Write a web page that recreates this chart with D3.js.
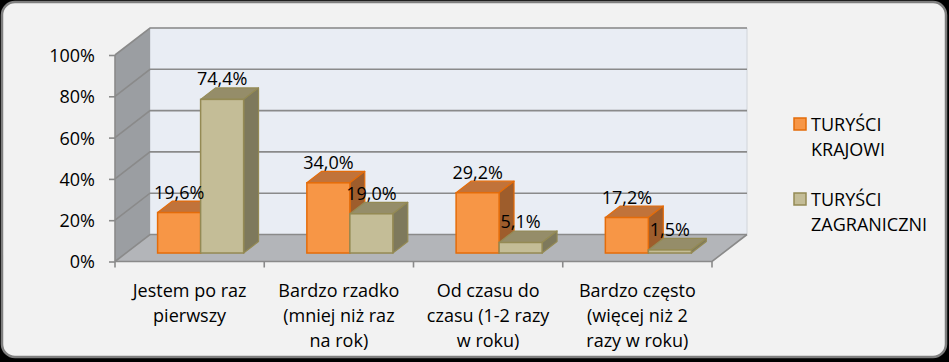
<!DOCTYPE html>
<html><head><meta charset="utf-8">
<script src="https://cdn.jsdelivr.net/npm/d3@7"></script>
<style>html,body{margin:0;padding:0;background:#000;} svg{display:block;}</style>
</head><body>
<svg id="c" width="949" height="362"></svg>
<script>
const categories = [
  ["Jestem po raz", "pierwszy"],
  ["Bardzo rzadko", "(mniej niż raz", "na rok)"],
  ["Od czasu do", "czasu (1-2 razy", "w roku)"],
  ["Bardzo często", "(więcej niż 2", "razy w roku)"]
];
const seriesNames = ["TURYŚCI KRAJOWI", "TURYŚCI ZAGRANICZNI"];
const legendLines = [["TURYŚCI", "KRAJOWI"], ["TURYŚCI", "ZAGRANICZNI"]];
const krajowi = [19.6, 34.0, 29.2, 17.2];
const zagraniczni = [74.4, 19.0, 5.1, 1.5];
const labelsKrajowi = ["19,6%", "34,0%", "29,2%", "17,2%"];
const labelsZagraniczni = ["74,4%", "19,0%", "5,1%", "1,5%"];
const yTicks = [0, 20, 40, 60, 80, 100];

const FONT = "'Open Sans', sans-serif";
const svg = d3.select("#c");

// outer panel
svg.append("rect").attr("x", 2).attr("y", 2).attr("width", 944).attr("height", 355)
  .attr("rx", 13).attr("ry", 13).attr("fill", "#f2f2f2").attr("stroke", "#7f7f7f").attr("stroke-width", 2.5);

const catKeys = categories.map((c, i) => i);
const x = d3.scaleBand().domain(catKeys).range([115, 712]);
const y = d3.scaleLinear().domain([0, 100]).range([261.5, 55]);
const DX = 35, DY = -27; // floor depth
const f0 = 0.314, f1 = 0.74; // bar depth fractions
const sub = d3.scaleBand().domain([0, 1]).range([0, x.bandwidth()]).paddingInner(0).paddingOuter(0.735);

const x0 = x.range()[0], x1 = x.range()[1];
const y0 = y(0);
const yTop = y(100);
const line = d3.line();

// back wall
svg.append("path").attr("d", line([[x0 + DX, yTop + DY], [x1 + DX, yTop + DY], [x1 + DX, y0 + DY], [x0 + DX, y0 + DY]]) + "Z")
  .attr("fill", "#e9edf4").attr("stroke", "#d0d4da").attr("stroke-width", 1);
// left wall
svg.append("path").attr("d", line([[x0, yTop], [x0 + DX, yTop + DY], [x0 + DX, y0 + DY], [x0, y0]]) + "Z")
  .attr("fill", "#9b9ea2");
// floor
svg.append("path").attr("d", line([[x0, y0], [x0 + DX, y0 + DY], [x1 + DX, y0 + DY], [x1, y0]]) + "Z")
  .attr("fill", "#b3b5b9");

// gridlines
yTicks.forEach(t => {
  const yy = y(t);
  svg.append("path").attr("d", line([[x0, yy], [x0 + DX, yy + DY], [x1 + DX, yy + DY]]))
    .attr("fill", "none").attr("stroke", "#8a8a8a").attr("stroke-width", 1.6);
});
// floor front edge + right diagonal
svg.append("path").attr("d", line([[x0, y0], [x1, y0], [x1 + DX, y0 + DY]]))
  .attr("fill", "none").attr("stroke", "#8a8a8a").attr("stroke-width", 1.6);

// y axis
const yAxis = d3.axisLeft(y).tickValues(yTicks).tickFormat(d => d + "%").tickSize(6).tickPadding(14);
const gy = svg.append("g").attr("transform", `translate(${x0},0)`).call(yAxis);
gy.select(".domain").attr("stroke", "#8a8a8a").attr("stroke-width", 1.6).attr("d", `M0,${yTop}V${y0}`);
gy.selectAll(".tick line").attr("stroke", "#8a8a8a").attr("stroke-width", 1.6);
gy.selectAll(".tick text").attr("font-family", FONT).attr("font-size", 18).attr("fill", "#000").attr("dy", "0.36em");

// x axis boundary ticks
const bounds = catKeys.map(k => x(k)).concat([x1]);
svg.selectAll(".xt").data(bounds).enter().append("line")
  .attr("x1", d => d).attr("x2", d => d).attr("y1", y0).attr("y2", y0 + 6)
  .attr("stroke", "#8a8a8a").attr("stroke-width", 1.6);

// category labels
const gx = svg.append("g");
categories.forEach((lines, i) => {
  const t = gx.append("text").attr("x", x(i) + x.bandwidth() / 2).attr("y", 297)
    .attr("text-anchor", "middle").attr("font-family", FONT).attr("font-size", 18).attr("fill", "#000");
  lines.forEach((l, j) => t.append("tspan").attr("x", x(i) + x.bandwidth() / 2).attr("y", 297 + j * 25).text(l));
});

// bars
const styles = [
  {front: "#f79646", top: "#c1733a", side: "#9e5d2c", stroke: "#e46c0a"},
  {front: "#c4bd97", top: "#958d69", side: "#7e795c", stroke: "#948a54"}
];
const seriesVals = [krajowi, zagraniczni];
const seriesLabels = [labelsKrajowi, labelsZagraniczni];
const gb = svg.append("g");
const labelData = [];
catKeys.forEach(i => {
  [0, 1].forEach(s => {
    const v = seriesVals[s][i];
    const st = styles[s];
    const fx = x(i) + sub(s) + DX * f0;
    const fw = sub.bandwidth();
    const fb = y(0) + DY * f0;
    const ft = y(v) + DY * f0;
    const ddx = DX * (f1 - f0), ddy = DY * (f1 - f0);
    // top
    gb.append("path").attr("d", line([[fx, ft], [fx + ddx, ft + ddy], [fx + fw + ddx, ft + ddy], [fx + fw, ft]]) + "Z")
      .attr("fill", st.top).attr("stroke", st.stroke).attr("stroke-width", 1.2).attr("stroke-linejoin", "round");
    // side
    gb.append("path").attr("d", line([[fx + fw, ft], [fx + fw + ddx, ft + ddy], [fx + fw + ddx, fb + ddy], [fx + fw, fb]]) + "Z")
      .attr("fill", st.side).attr("stroke", st.stroke).attr("stroke-width", 1.2).attr("stroke-linejoin", "round");
    // front
    gb.append("rect").attr("x", fx).attr("y", ft).attr("width", fw).attr("height", fb - ft)
      .attr("fill", st.front).attr("stroke", st.stroke).attr("stroke-width", 1.5);
    labelData.push({x: fx + fw / 2, y: ft + ddy - 2.5, t: seriesLabels[s][i]});
  });
});
svg.selectAll(".dl").data(labelData).enter().append("text")
  .attr("x", d => d.x).attr("y", d => d.y).attr("text-anchor", "middle")
  .attr("font-family", FONT).attr("font-size", 18).attr("fill", "#000").text(d => d.t);

// legend
seriesNames.forEach((n, s) => {
  const ly = 118 + s * 75;
  svg.append("rect").attr("x", 794).attr("y", ly).attr("width", 12).attr("height", 12)
    .attr("fill", styles[s].front).attr("stroke", styles[s].stroke).attr("stroke-width", 1.5);
  const t = svg.append("text").attr("font-family", FONT).attr("font-size", 18).attr("fill", "#000");
  legendLines[s].forEach((l, j) => t.append("tspan").attr("x", 811).attr("y", ly + 13 + j * 25).text(l));
});
</script>
</body></html>
